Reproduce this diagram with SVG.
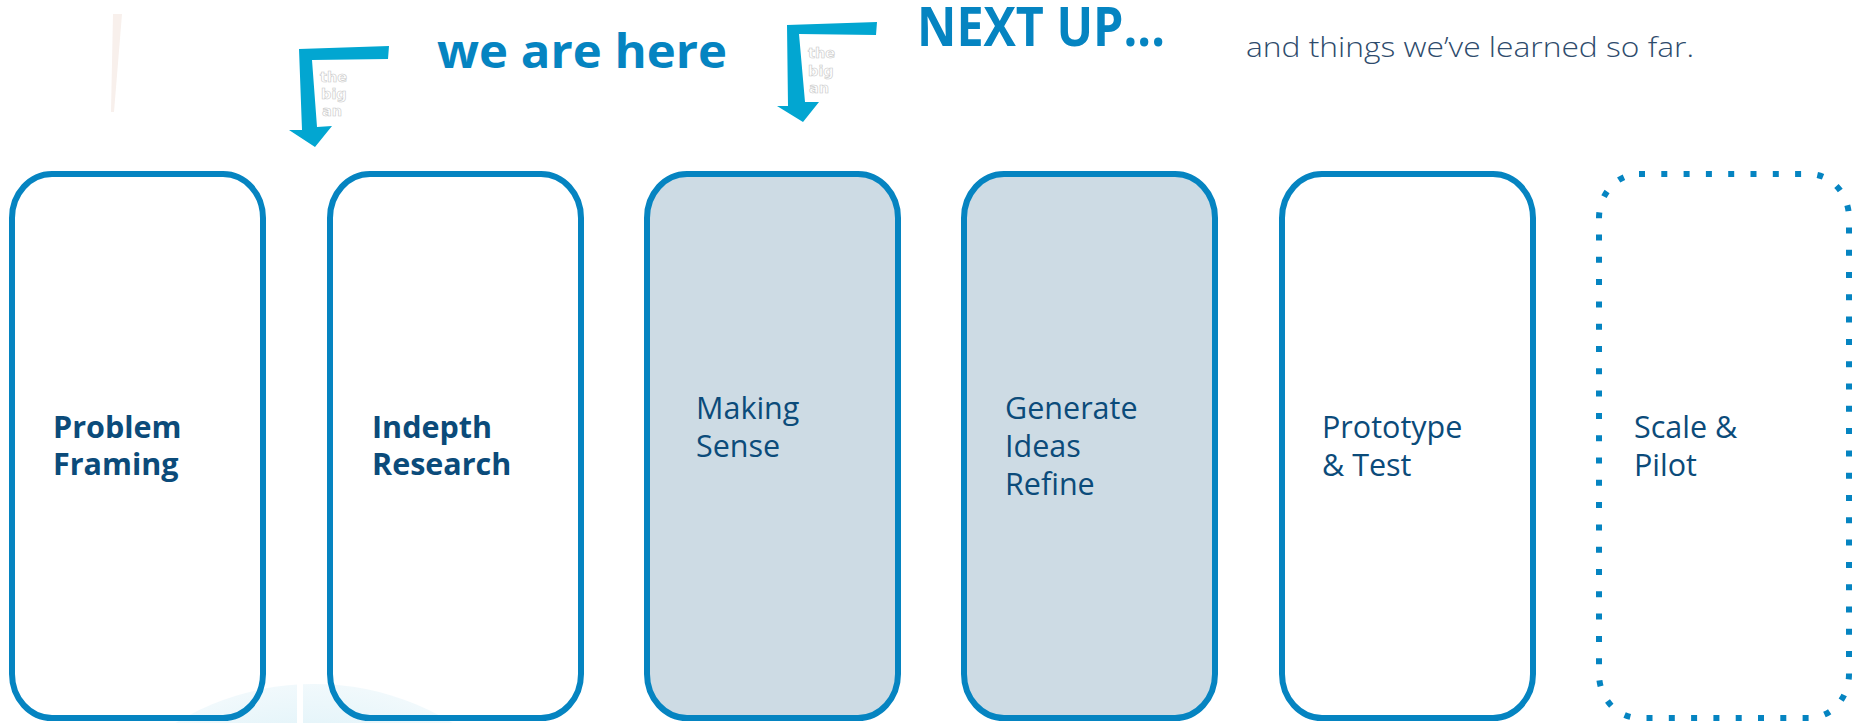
<svg xmlns="http://www.w3.org/2000/svg" width="1853" height="723" viewBox="0 0 1853 723">
<style>
.box{fill:none;stroke:#0584c1;stroke-width:6}
.dot{fill:none;stroke:#0584c1;stroke-width:6;stroke-dasharray:6 16.3}
.lbl{font-family:"Open Sans","Liberation Sans",sans-serif;font-size:30.5px;fill:#0b4b7a}
.b{font-weight:bold}
.arrow{fill:#02a6d1}
.ghost{font-family:"DejaVu Sans","Liberation Sans",sans-serif;font-weight:bold;font-size:14.5px;fill:#fff;stroke:#c8c8c8;stroke-width:0.6}
</style>
<defs>
<clipPath id="c1"><rect x="313" y="60" width="40" height="62"/></clipPath>
<clipPath id="c2"><rect x="801" y="36" width="41" height="62"/></clipPath>
<radialGradient id="globe" cx="0.5" cy="0.5" r="0.5">
<stop offset="0.85" stop-color="#e6f5fa"/>
<stop offset="1" stop-color="#f1f9fc"/>
</radialGradient>
</defs>
<rect width="1853" height="723" fill="#fff"/>
<g id="background">
<polygon points="113,14 122,14 114,112 111,112" fill="#f8f0ec"/>
<circle cx="314" cy="950" r="266" fill="url(#globe)"/>
<rect x="297" y="680" width="6" height="43" fill="#fff"/>
</g>
<g id="headings">
<text x="437" y="68" font-family="'Open Sans','Liberation Sans',sans-serif" font-weight="bold" font-size="46" fill="#0584c1" textLength="290" lengthAdjust="spacingAndGlyphs">we are here</text>
<text x="917" y="46" font-family="'Open Sans','Liberation Sans',sans-serif" font-weight="bold" font-size="54" fill="#0584c1" textLength="248" lengthAdjust="spacingAndGlyphs">NEXT UP...</text>
<text x="1246" y="57" font-family="'Open Sans','Liberation Sans',sans-serif" font-weight="300" font-size="27" fill="#2e4b6c" textLength="448" lengthAdjust="spacingAndGlyphs">and things we’ve learned so far.</text>
</g>
<g id="connectors">
<g id="arrow-here">
<polygon class="arrow" points="389,46 299,49 302,130 289,130 315,147 332,126 317,127 312,60 388,59"/>
<g clip-path="url(#c1)" class="ghost"><text x="320" y="82">the</text><text x="321" y="99">big</text><text x="322" y="116">an</text></g>
</g>
<g id="arrow-next">
<polygon class="arrow" points="877,22 787,25 788,106 777,106 803,122 819,102 805,102 799,34 876,35"/>
<g clip-path="url(#c2)" class="ghost"><text x="808" y="58">the</text><text x="808" y="76">big</text><text x="809" y="93">an</text></g>
</g>
</g>
<g id="node-problem-framing">
<rect class="box" x="12" y="174" width="251" height="544" rx="40" ry="44"/>
<text class="lbl b" x="53" y="438">Problem</text><text class="lbl b" x="53" y="475">Framing</text>
</g>
<g id="node-indepth-research">
<rect class="box" x="330" y="174" width="251" height="544" rx="40" ry="44"/>
<text class="lbl b" x="372" y="438">Indepth</text><text class="lbl b" x="372" y="475">Research</text>
</g>
<g id="node-making-sense">
<rect class="box" x="647" y="174" width="251" height="544" rx="40" ry="44" style="fill:#cddbe4"/>
<text class="lbl" x="696" y="419">Making</text><text class="lbl" x="696" y="457">Sense</text>
</g>
<g id="node-generate-ideas">
<rect class="box" x="964" y="174" width="251" height="544" rx="40" ry="44" style="fill:#cddbe4"/>
<text class="lbl" x="1005" y="419">Generate</text><text class="lbl" x="1005" y="457">Ideas</text><text class="lbl" x="1005" y="495">Refine</text>
</g>
<g id="node-prototype-test">
<rect class="box" x="1282" y="174" width="251" height="544" rx="40" ry="44"/>
<text class="lbl" x="1322" y="438">Prototype</text><text class="lbl" x="1322" y="476">&amp; Test</text>
</g>
<g id="node-scale-pilot">
<rect class="dot" x="1599" y="174" width="250" height="544" rx="40" ry="44"/>
<text class="lbl" x="1634" y="438">Scale &amp;</text><text class="lbl" x="1634" y="476">Pilot</text>
</g>
</svg>
